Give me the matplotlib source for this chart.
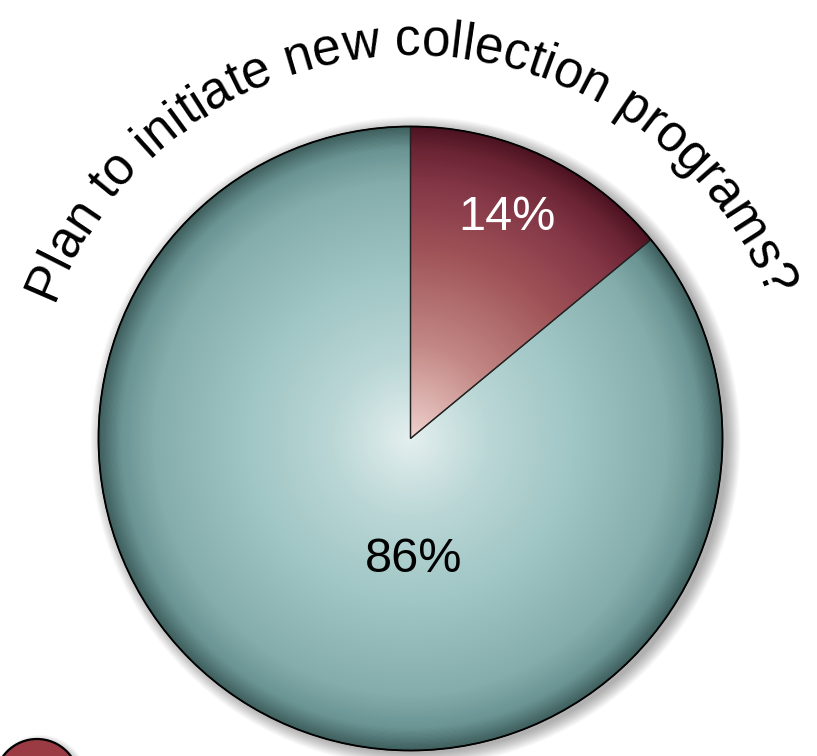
import numpy as np
import matplotlib
matplotlib.use('Agg')
import matplotlib.pyplot as plt
from matplotlib.colors import LinearSegmentedColormap
from matplotlib.patches import Circle
from matplotlib.font_manager import FontProperties, findfont
from matplotlib.ft2font import FT2Font

# ---- data ----
title = "Plan to initiate new collection programs?"
categories = ["Yes", "No"]
values = [14, 86]
labels = ["14%", "86%"]
label_colors = ["white", "black"]

W, H = 817, 756
fig = plt.figure(figsize=(W / 100, H / 100), dpi=100)
ax = fig.add_axes([0, 0, 1, 1])

cx, cy, R = 410.5, 317.5, 312

# soft drop shadow
for i in range(14):
    ax.add_patch(Circle((cx + 5, cy - 3), R + 13 - i, color='black',
                        alpha=0.025, lw=0, zorder=1))

wedges, _ = ax.pie(values, startangle=90, counterclock=False, center=(cx, cy),
                   radius=R, frame=True,
                   wedgeprops=dict(facecolor='none', edgecolor='#222222',
                                   linewidth=0.9, zorder=3))

# radial gradient fills
yy, xx = np.mgrid[0:H, 0:W] + 0.5
t = np.clip(np.hypot(xx - cx, yy - cy) / R, 0, 1)
teal = LinearSegmentedColormap.from_list('teal', [
    (0.0, '#e4efef'), (0.25, '#bad7d6'), (0.55, '#9dc4c3'),
    (0.82, '#85adac'), (0.93, '#6a9493'), (1.0, '#3e5f5e')])
red = LinearSegmentedColormap.from_list('red', [
    (0.0, '#f0d2ce'), (0.3, '#c38885'), (0.6, '#a05458'),
    (0.82, '#833646'), (0.93, '#6a2433'), (1.0, '#4c1322')])
for w, cm in zip(wedges, [red, teal]):
    im = ax.imshow(cm(t), extent=(0, W, 0, H), origin='lower', zorder=2,
                   interpolation='bilinear')
    im.set_clip_path(w)

ax.add_patch(Circle((cx, cy), R, facecolor='none', edgecolor='black',
                    lw=1.3, zorder=4))

# value labels
label_pos = [(507, H - 218), (414, H - 560)]
for lab, col, (x, y) in zip(labels, label_colors, label_pos):
    ax.text(x, y, lab, color=col, fontsize=35, family='Liberation Sans',
            ha='center', va='center', zorder=5)

# curved title
fs = 37
fpath = findfont(FontProperties(family='Liberation Sans'))
font = FT2Font(fpath)
font.set_size(fs, 72)
adv = []
for ch in title:
    g = font.load_char(ord(ch))
    adv.append(g.linearHoriAdvance / 65536.0 * 100 / 72)
adv = np.array(adv)
starts = np.concatenate([[0], np.cumsum(adv)[:-1]])
centers = starts + adv / 2
mid = (centers[0] + centers[-1]) / 2
Rb = 382
for ch, c in zip(title, centers):
    if ch == ' ':
        continue
    a = np.pi / 2 + (mid - c) / Rb
    ax.text(cx + Rb * np.cos(a), cy + 1 + Rb * np.sin(a), ch,
            rotation=np.degrees(a) - 90, rotation_mode='anchor',
            ha='center', va='baseline', fontsize=fs,
            family='Liberation Sans', color='black', zorder=5)

# partially visible legend marker bottom-left
for i in range(6):
    ax.add_patch(Circle((40, -27), 42 + 6 - i, color='black', alpha=0.03,
                        lw=0, zorder=1))
ax.add_patch(Circle((37, -25), 42, facecolor='#9a3a42', edgecolor='black',
                    lw=1.6, zorder=3))

ax.set_xlim(0, W)
ax.set_ylim(0, H)
ax.set_aspect('auto')
ax.axis('off')
fig.savefig('out.png', dpi=100)
